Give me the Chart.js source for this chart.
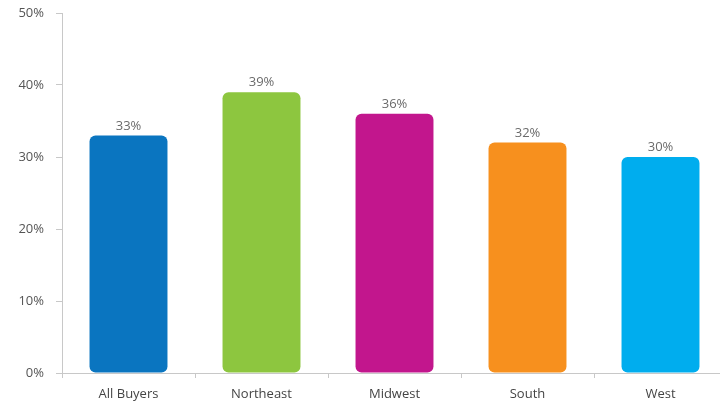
<!DOCTYPE html>
<html>
<head>
<meta charset="utf-8">
<script src="https://cdn.jsdelivr.net/npm/chart.js@4"></script>
<style>
  html, body { margin: 0; padding: 0; background: #fff; overflow: hidden; }
  #wrap { width: 728px; height: 401px; position: relative; }
</style>
</head>
<body>
<div id="wrap"><canvas id="c"></canvas></div>
<script>
const categories = ["All Buyers", "Northeast", "Midwest", "South", "West"];
const values = [33, 39, 36, 32, 30];
const barColors = ["#0a75c0", "#8dc63f", "#c2168d", "#f7901e", "#00adee"];
const yTicks = [0, 10, 20, 30, 40, 50];

const valueLabels = {
  id: 'valueLabels',
  afterDatasetsDraw(chart) {
    const ctx = chart.ctx;
    const meta = chart.getDatasetMeta(0);
    ctx.save();
    ctx.font = '13px "Open Sans", sans-serif';
    ctx.fillStyle = '#6b6b6b';
    ctx.textAlign = 'center';
    ctx.textBaseline = 'bottom';
    meta.data.forEach((bar, i) => {
      ctx.fillText(values[i] + '%', bar.x, bar.y - 3);
    });
    ctx.restore();
  }
};

new Chart(document.getElementById('c'), {
  type: 'bar',
  data: {
    labels: categories,
    datasets: [{
      data: values,
      backgroundColor: barColors,
      borderRadius: 6,
      borderSkipped: false,
      barPercentage: 0.586,
      categoryPercentage: 1.0
    }]
  },
  options: {
    responsive: true,
    maintainAspectRatio: false,
    animation: false,
    layout: { padding: { top: 13, right: 1, left: 0, bottom: 0 } },
    plugins: { legend: { display: false }, tooltip: { enabled: false } },
    scales: {
      x: {
        grid: { drawOnChartArea: false, drawTicks: true, tickLength: 5, color: '#c8c8c8', offset: true },
        border: { color: '#c8c8c8', width: 1 },
        ticks: { color: '#444', font: { family: '"Open Sans", sans-serif', size: 13 }, padding: 8 },
        afterFit(scale) { scale.height = 28; scale.paddingLeft = 0; scale.paddingRight = 0; }
      },
      y: {
        min: 0, max: 50,
        afterBuildTicks(scale) { scale.ticks = yTicks.map(v => ({ value: v })); },
        grid: { drawOnChartArea: false, drawTicks: true, tickLength: 6, color: '#c8c8c8' },
        border: { color: '#c8c8c8', width: 1 },
        ticks: {
          color: '#555', font: { family: '"Open Sans", sans-serif', size: 13 }, padding: 12,
          callback: v => v + '%'
        },
        afterFit(scale) { scale.width = 62; scale.paddingTop = 0; scale.paddingBottom = 0; }
      }
    }
  },
  plugins: [valueLabels]
});
</script>
</body>
</html>
